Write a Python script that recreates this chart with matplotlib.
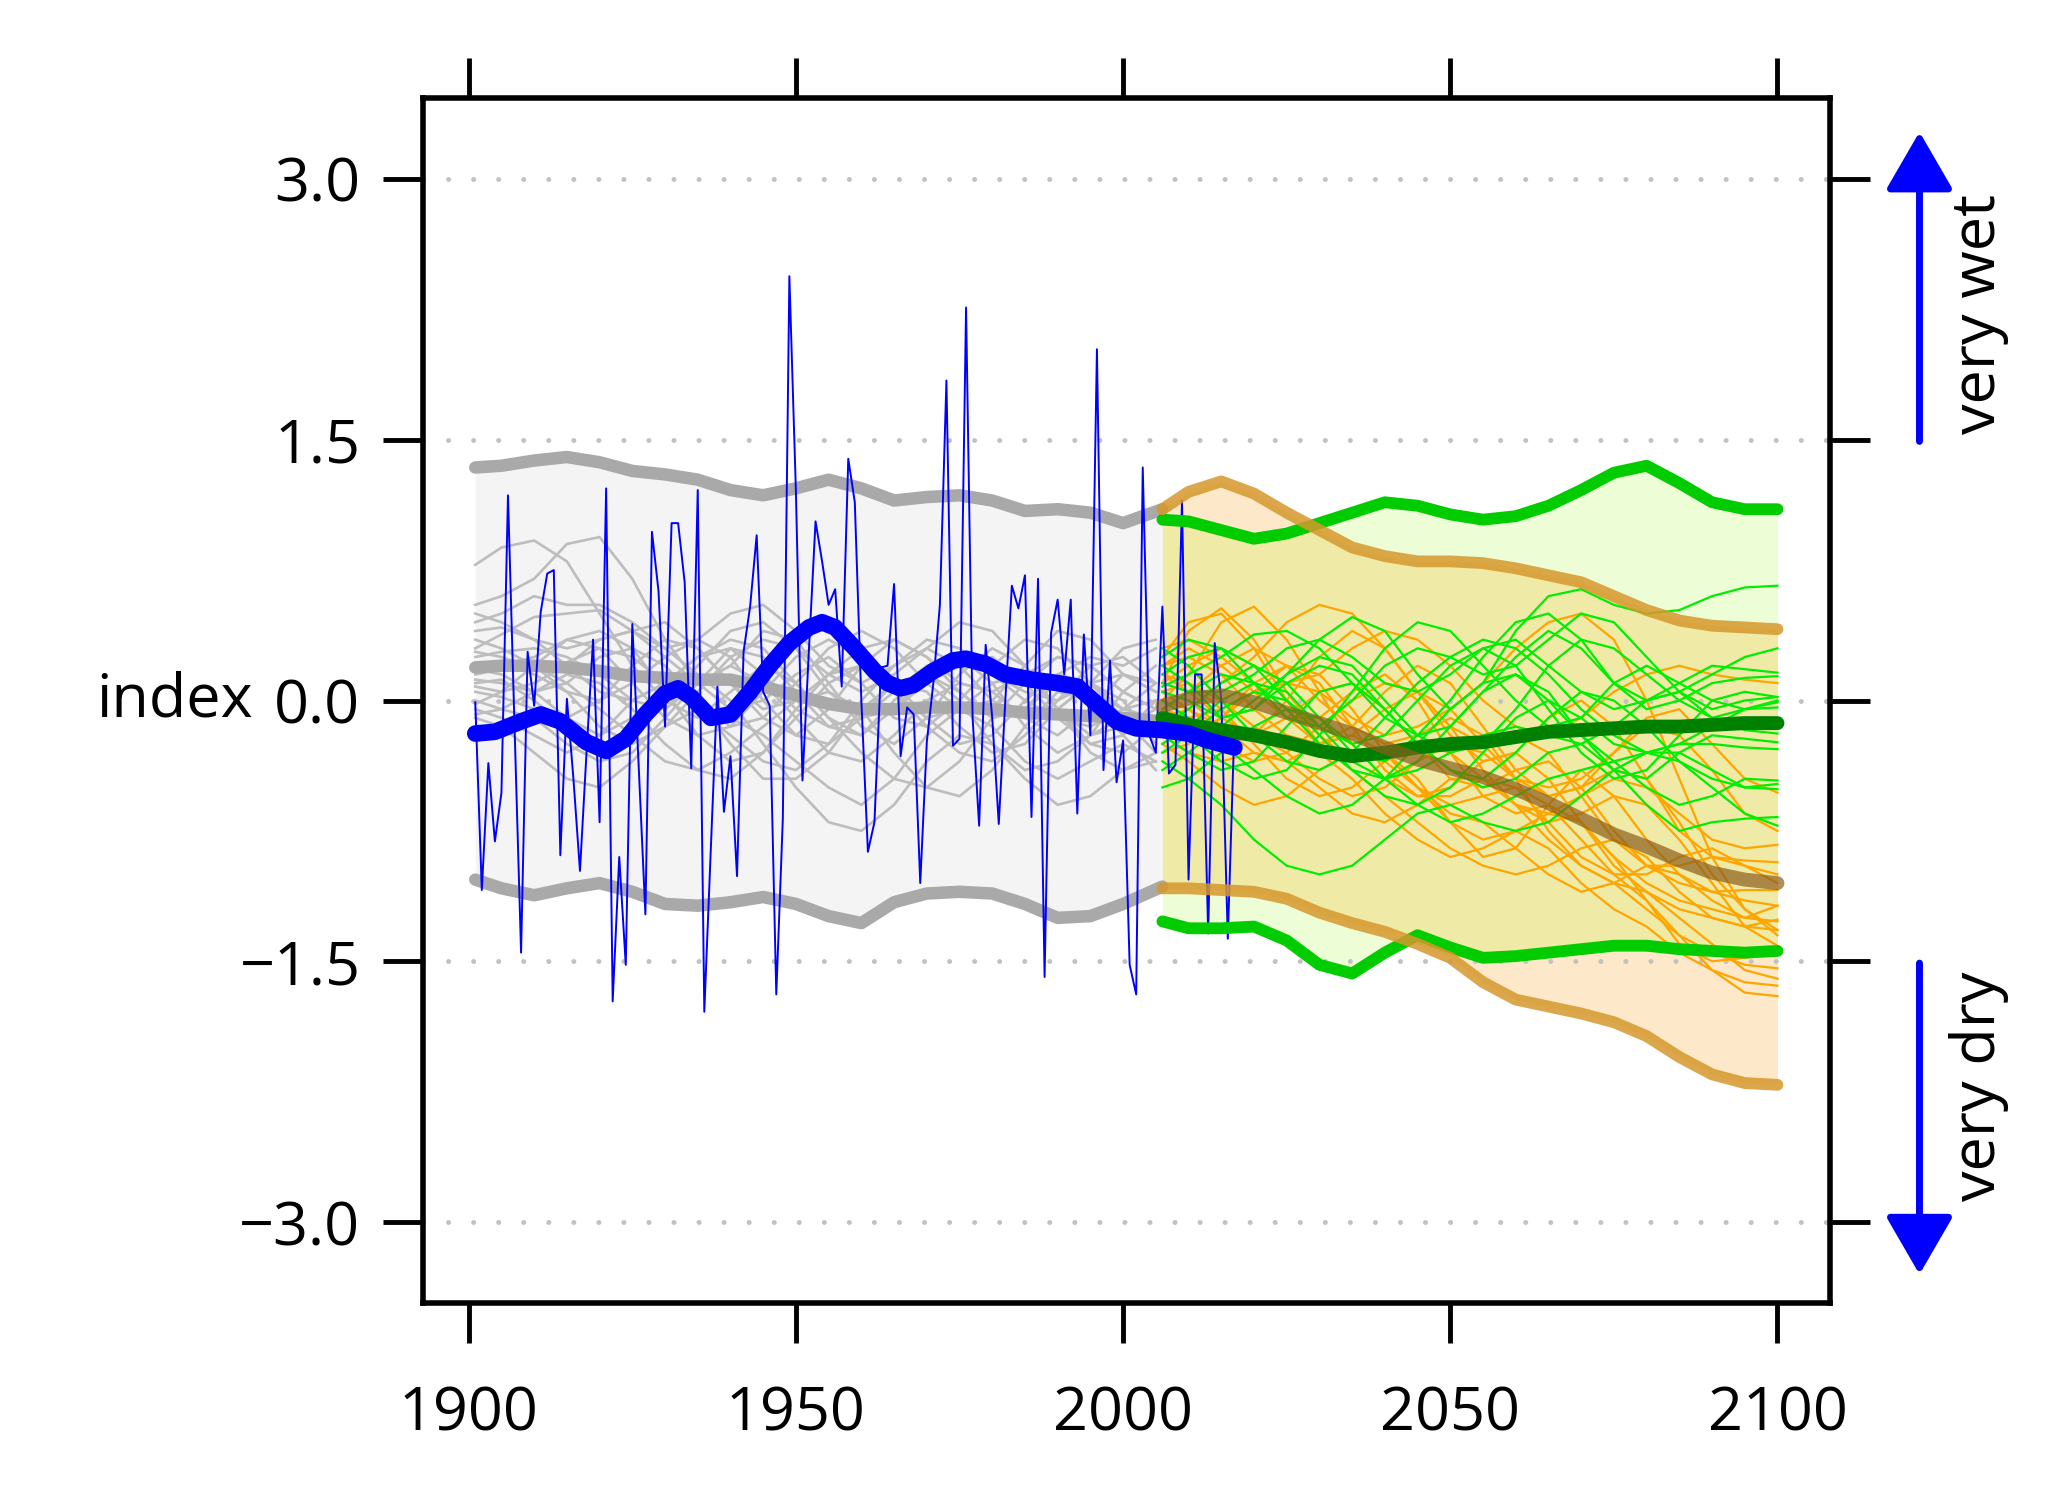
import numpy as np
import matplotlib
matplotlib.use('Agg')
import matplotlib.pyplot as plt
from matplotlib.transforms import blended_transform_factory

plt.rcParams['font.family'] = ['Open Sans', 'DejaVu Sans']

# observed annual index 1901-2017
obs_years = list(range(1901, 2018))
obs_values = [
    -0.01, -1.09, -0.36, -0.81, -0.53, 1.18, -0.15, -1.45, 0.28, -0.03,
    0.51, 0.73, 0.75, -0.89, 0.01, -0.45, -0.98, -0.30, 0.35, -0.70,
    1.22, -1.73, -0.90, -1.52, 0.44, -0.40, -1.23, 0.97, 0.63, -0.15,
    1.02, 1.02, 0.68, -0.39, 1.21, -1.79, -0.85, 0.08, -0.64, -0.32,
    -1.01, 0.28, 0.54, 0.95, 0.05, -0.03, -1.69, -0.68, 2.44, 1.20,
    -0.46, 0.30, 1.03, 0.80, 0.55, 0.64, 0.08, 1.39, 1.14, 0.00,
    -0.87, -0.70, 0.19, 0.20, 0.67, -0.32, -0.04, -0.08, -1.05, -0.24,
    0.10, 0.55, 1.84, -0.26, -0.22, 2.26, -0.10, -0.72, 0.32, -0.10,
    -0.71, 0.00, 0.66, 0.53, 0.72, -0.67, 0.70, -1.59, 0.39, 0.58,
    0.15, 0.58, -0.65, 0.38, -0.20, 2.02, -0.40, 0.23, -0.47, -0.23,
    -1.52, -1.69, 1.34, -0.20, -0.30, 0.54, -0.42, -0.37, 1.15, -1.03,
    0.15, 0.15, -1.34, 0.33, 0.01, -1.37, -0.16,
]

# smoothed observed index
obs_smooth_years = [1901, 1904, 1908, 1911, 1914, 1918, 1921, 1924, 1927, 1930,
                    1932, 1934, 1937, 1940, 1943, 1946, 1949, 1952, 1954, 1956,
                    1959, 1962, 1964, 1966, 1968, 1971, 1974, 1976, 1979, 1982,
                    1986, 1990, 1993, 1996, 1999, 2002, 2006, 2010, 2013, 2017]
obs_smooth = [-0.19, -0.18, -0.12, -0.08, -0.12, -0.24, -0.29, -0.22, -0.08, 0.04,
              0.07, 0.02, -0.10, -0.08, 0.05, 0.20, 0.33, 0.42, 0.45, 0.42,
              0.30, 0.17, 0.10, 0.07, 0.09, 0.17, 0.23, 0.24, 0.21, 0.15,
              0.12, 0.10, 0.08, -0.02, -0.12, -0.16, -0.17, -0.19, -0.23, -0.27]

# historical model runs
hist_years = [1901, 1905, 1910, 1915, 1920, 1925, 1930, 1935, 1940, 1945, 1950,
              1955, 1960, 1965, 1970, 1975, 1980, 1985, 1990, 1995, 2000, 2005]
hist_runs = [
    [0.78, 0.88, 0.92, 0.80, 0.50, 0.20, 0.00, -0.10, 0.05, 0.20, 0.10, -0.10, -0.20, 0.00, 0.15, 0.05, -0.10, -0.05, 0.10, 0.05, -0.05, -0.10],
    [0.55, 0.60, 0.70, 0.90, 0.94, 0.70, 0.35, 0.10, -0.05, 0.00, 0.15, 0.25, 0.10, -0.10, -0.15, 0.00, 0.20, 0.35, 0.30, 0.10, -0.05, 0.00],
    [0.45, 0.50, 0.60, 0.55, 0.55, 0.45, 0.30, 0.35, 0.50, 0.55, 0.40, 0.20, 0.10, 0.20, 0.35, 0.30, 0.15, 0.05, 0.00, 0.10, 0.15, 0.05],
    [0.30, 0.38, 0.48, 0.50, 0.52, 0.40, 0.25, 0.10, 0.20, 0.40, 0.35, 0.10, -0.15, -0.25, -0.10, 0.15, 0.30, 0.20, -0.05, -0.20, -0.15, -0.05],
    [0.25, 0.28, 0.30, 0.25, 0.15, 0.00, -0.05, 0.10, 0.30, 0.25, 0.05, -0.15, -0.20, -0.05, 0.15, 0.25, 0.10, -0.15, -0.30, -0.20, 0.05, 0.20],
    [0.20, 0.22, 0.15, 0.05, 0.00, 0.10, 0.25, 0.35, 0.25, 0.00, -0.20, -0.25, -0.10, 0.10, 0.15, 0.00, -0.25, -0.40, -0.35, -0.20, -0.10, -0.20],
    [0.12, 0.10, 0.05, 0.10, 0.25, 0.30, 0.20, 0.00, -0.15, -0.10, 0.10, 0.30, 0.40, 0.30, 0.10, -0.05, 0.00, 0.20, 0.40, 0.35, 0.15, 0.05],
    [0.05, 0.02, -0.05, -0.10, 0.00, 0.20, 0.35, 0.30, 0.10, -0.10, -0.20, -0.05, 0.20, 0.35, 0.25, 0.05, -0.10, -0.05, 0.15, 0.25, 0.20, 0.30],
    [0.00, -0.05, -0.10, -0.25, -0.35, -0.30, -0.10, 0.10, 0.20, 0.10, -0.10, -0.30, -0.35, -0.20, 0.00, 0.10, 0.05, -0.10, -0.20, -0.05, 0.15, 0.10],
    [-0.05, -0.10, -0.20, -0.30, -0.20, 0.00, 0.10, 0.00, -0.25, -0.45, -0.45, -0.30, -0.05, 0.10, 0.05, -0.15, -0.30, -0.25, -0.05, 0.10, 0.00, -0.25],
    [-0.10, -0.15, -0.30, -0.45, -0.50, -0.35, -0.15, -0.05, -0.10, -0.20, -0.35, -0.50, -0.60, -0.45, -0.20, -0.05, -0.15, -0.35, -0.45, -0.35, -0.25, -0.35],
    [0.15, 0.18, 0.20, 0.10, -0.05, -0.20, -0.35, -0.40, -0.30, -0.15, 0.00, 0.05, -0.05, -0.30, -0.50, -0.55, -0.40, -0.15, 0.05, 0.00, -0.20, -0.40],
    [0.35, 0.30, 0.20, 0.05, -0.15, -0.25, -0.15, 0.05, 0.25, 0.35, 0.30, 0.15, 0.05, 0.15, 0.30, 0.45, 0.40, 0.20, -0.05, -0.25, -0.30, -0.15],
    [0.08, 0.05, 0.10, 0.20, 0.35, 0.40, 0.30, 0.15, 0.00, -0.25, -0.50, -0.70, -0.75, -0.60, -0.35, -0.20, -0.25, -0.45, -0.60, -0.55, -0.40, -0.30],
    [0.28, 0.25, 0.18, 0.22, 0.30, 0.25, 0.10, -0.05, -0.20, -0.35, -0.40, -0.25, 0.00, 0.20, 0.30, 0.20, 0.00, -0.10, -0.05, 0.10, 0.30, 0.35],
    [0.18, 0.15, 0.05, -0.10, -0.20, -0.10, 0.10, 0.25, 0.35, 0.30, 0.10, -0.10, -0.30, -0.45, -0.50, -0.35, -0.10, 0.10, 0.25, 0.20, 0.05, -0.05],
    [0.40, 0.42, 0.35, 0.20, 0.05, 0.00, 0.10, 0.25, 0.30, 0.15, -0.05, -0.15, -0.10, 0.05, 0.20, 0.25, 0.15, 0.00, -0.10, -0.15, -0.05, 0.10],
    [-0.02, 0.05, 0.20, 0.35, 0.30, 0.10, -0.10, -0.20, -0.15, 0.05, 0.25, 0.35, 0.25, 0.05, -0.15, -0.30, -0.35, -0.20, 0.00, 0.20, 0.25, 0.10],
    [0.22, 0.20, 0.25, 0.35, 0.40, 0.30, 0.05, -0.20, -0.35, -0.30, -0.10, 0.10, 0.20, 0.10, -0.10, -0.25, -0.20, 0.00, 0.15, 0.10, -0.10, -0.30],
    [0.10, 0.12, 0.00, -0.15, -0.25, -0.20, 0.00, 0.20, 0.40, 0.45, 0.30, 0.05, -0.10, -0.05, 0.10, 0.20, 0.25, 0.10, -0.10, -0.25, -0.20, 0.00],
    [0.50, 0.45, 0.35, 0.30, 0.35, 0.40, 0.45, 0.30, 0.10, -0.05, 0.00, 0.15, 0.30, 0.35, 0.25, 0.10, 0.05, 0.15, 0.25, 0.20, 0.05, -0.05],
    [-0.08, -0.05, 0.05, 0.15, 0.10, -0.05, -0.25, -0.40, -0.45, -0.30, -0.05, 0.15, 0.20, 0.05, -0.10, -0.05, 0.10, 0.15, -0.05, -0.30, -0.40, -0.35],
]

# historical envelope and mean
hist_env_years = [1901, 1905, 1910, 1915, 1920, 1925, 1930, 1935, 1940, 1945, 1950,
                  1955, 1960, 1965, 1970, 1975, 1980, 1985, 1990, 1995, 2000, 2006]
hist_hi = [1.34, 1.35, 1.38, 1.40, 1.37, 1.32, 1.30, 1.27, 1.21, 1.18, 1.22,
           1.27, 1.22, 1.15, 1.17, 1.18, 1.15, 1.09, 1.10, 1.08, 1.02, 1.10]
hist_lo = [-1.03, -1.08, -1.12, -1.08, -1.05, -1.10, -1.17, -1.18, -1.16, -1.13, -1.17,
           -1.24, -1.28, -1.16, -1.11, -1.10, -1.11, -1.17, -1.25, -1.24, -1.17, -1.07]
hist_mean = [0.19, 0.20, 0.20, 0.19, 0.17, 0.14, 0.13, 0.12, 0.12, 0.08, 0.03,
             -0.02, -0.05, -0.05, -0.04, -0.04, -0.05, -0.07, -0.08, -0.09, -0.10, -0.12]

# future scenario runs
fut_years = [2006, 2010, 2015, 2020, 2025, 2030, 2035, 2040, 2045, 2050,
             2055, 2060, 2065, 2070, 2075, 2080, 2085, 2090, 2095, 2100]
orange_runs = [
    [0.10, 0.40, 0.53, 0.35, 0.05, -0.20, -0.35, -0.30, -0.45, -0.70, -0.90, -0.85, -0.60, -0.40, -0.55, -0.80, -1.00, -1.10, -1.15, -1.18],
    [0.00, 0.15, 0.45, 0.54, 0.35, 0.05, -0.25, -0.45, -0.55, -0.50, -0.35, -0.30, -0.45, -0.70, -0.95, -1.10, -1.20, -1.25, -1.30, -1.32],
    [-0.10, -0.05, 0.10, 0.25, 0.45, 0.55, 0.50, 0.30, 0.05, -0.20, -0.35, -0.30, -0.10, 0.00, -0.15, -0.45, -0.75, -0.90, -0.92, -0.93],
    [0.20, 0.25, 0.15, -0.05, -0.20, -0.25, -0.15, 0.05, 0.20, 0.10, -0.15, -0.40, -0.55, -0.50, -0.30, -0.10, -0.05, -0.25, -0.45, -0.53],
    [0.05, 0.00, -0.15, -0.30, -0.35, -0.25, -0.20, -0.30, -0.50, -0.70, -0.80, -0.75, -0.85, -1.05, -1.20, -1.30, -1.45, -1.55, -1.62, -1.64],
    [-0.05, -0.10, -0.05, 0.05, 0.10, 0.05, -0.10, -0.20, -0.15, -0.05, 0.10, 0.30, 0.45, 0.50, 0.35, 0.00, -0.45, -0.90, -1.20, -1.35],
    [0.15, 0.05, -0.10, -0.20, -0.10, 0.05, 0.10, -0.05, -0.25, -0.45, -0.50, -0.40, -0.35, -0.50, -0.75, -0.95, -1.05, -1.10, -1.09, -1.09],
    [-0.20, -0.30, -0.35, -0.30, -0.35, -0.50, -0.65, -0.70, -0.60, -0.45, -0.45, -0.60, -0.80, -0.95, -1.05, -1.20, -1.35, -1.45, -1.52, -1.54],
    [0.25, 0.45, 0.50, 0.30, 0.00, -0.25, -0.40, -0.55, -0.70, -0.85, -0.95, -1.00, -0.95, -0.85, -0.80, -0.90, -1.10, -1.25, -1.30, -1.26],
    [-0.10, -0.15, -0.25, -0.35, -0.30, -0.15, 0.00, 0.10, 0.05, -0.15, -0.40, -0.60, -0.70, -0.65, -0.55, -0.60, -0.80, -1.05, -1.30, -1.41],
    [0.10, 0.20, 0.30, 0.20, 0.10, 0.15, 0.30, 0.40, 0.35, 0.20, 0.00, -0.15, -0.20, -0.10, 0.05, 0.15, 0.20, 0.15, 0.12, 0.10],
    [-0.25, -0.35, -0.50, -0.60, -0.55, -0.40, -0.30, -0.35, -0.50, -0.60, -0.55, -0.50, -0.60, -0.80, -1.00, -1.15, -1.35, -1.55, -1.68, -1.70],
    [0.00, -0.05, -0.15, -0.20, -0.30, -0.45, -0.55, -0.50, -0.35, -0.25, -0.30, -0.45, -0.55, -0.50, -0.40, -0.45, -0.70, -1.00, -1.20, -1.32],
    [0.30, 0.35, 0.25, 0.10, -0.10, -0.25, -0.20, -0.05, 0.05, -0.05, -0.25, -0.45, -0.50, -0.45, -0.30, -0.15, -0.20, -0.40, -0.65, -0.75],
    [-0.15, -0.20, -0.10, 0.05, 0.20, 0.15, -0.05, -0.30, -0.50, -0.65, -0.70, -0.85, -1.00, -1.10, -1.05, -0.95, -1.00, -1.15, -1.25, -1.18],
    [0.05, 0.10, 0.00, -0.15, -0.25, -0.30, -0.45, -0.65, -0.80, -0.90, -0.85, -0.75, -0.65, -0.70, -0.90, -1.15, -1.40, -1.50, -1.48, -1.45],
    [0.20, 0.30, 0.20, 0.05, -0.10, -0.10, 0.05, 0.15, 0.00, -0.30, -0.55, -0.65, -0.60, -0.70, -0.90, -1.05, -1.15, -1.20, -1.25, -1.27],
    [-0.30, -0.25, -0.10, 0.10, 0.20, 0.10, -0.15, -0.40, -0.55, -0.55, -0.45, -0.50, -0.70, -0.90, -1.00, -1.00, -0.90, -0.85, -0.95, -1.05],
    [0.05, -0.05, -0.20, -0.20, 0.00, 0.25, 0.40, 0.30, 0.05, -0.15, -0.25, -0.20, -0.30, -0.55, -0.80, -0.95, -0.95, -0.90, -0.95, -1.00],
    [-0.05, 0.05, 0.20, 0.30, 0.20, 0.00, -0.15, -0.25, -0.20, -0.10, -0.20, -0.45, -0.75, -0.95, -1.05, -1.10, -1.25, -1.40, -1.55, -1.60],
    [0.15, 0.10, -0.05, -0.25, -0.45, -0.55, -0.50, -0.35, -0.25, -0.30, -0.45, -0.60, -0.65, -0.55, -0.45, -0.50, -0.65, -0.80, -0.85, -0.83],
]
green_runs = [
    [0.20, 0.10, -0.10, -0.05, 0.15, 0.35, 0.48, 0.40, 0.15, -0.05, 0.10, 0.40, 0.60, 0.64, 0.55, 0.50, 0.52, 0.60, 0.65, 0.66],
    [-0.35, -0.45, -0.60, -0.80, -0.95, -1.00, -0.95, -0.80, -0.65, -0.60, -0.70, -0.75, -0.70, -0.55, -0.40, -0.30, -0.35, -0.50, -0.65, -0.72],
    [0.08, 0.15, 0.25, 0.38, 0.40, 0.30, 0.10, -0.10, -0.20, -0.15, 0.05, 0.25, 0.40, 0.30, 0.10, 0.00, 0.05, 0.15, 0.25, 0.30],
    [-0.10, -0.20, -0.35, -0.45, -0.40, -0.20, 0.05, 0.30, 0.45, 0.40, 0.20, 0.00, -0.15, -0.10, 0.10, 0.20, 0.10, 0.00, -0.05, -0.04],
    [-0.50, -0.45, -0.30, -0.15, -0.05, -0.10, -0.25, -0.45, -0.60, -0.70, -0.65, -0.55, -0.45, -0.40, -0.35, -0.30, -0.30, -0.40, -0.50, -0.51],
    [0.30, 0.20, 0.00, -0.20, -0.35, -0.40, -0.30, -0.10, 0.10, 0.25, 0.35, 0.30, 0.15, -0.05, -0.20, -0.30, -0.25, -0.15, -0.05, -0.01],
    [-0.25, -0.15, 0.00, 0.10, 0.05, -0.15, -0.35, -0.45, -0.35, -0.15, 0.05, 0.15, 0.05, -0.20, -0.40, -0.45, -0.30, -0.20, -0.22, -0.24],
    [0.00, -0.10, -0.25, -0.40, -0.55, -0.65, -0.60, -0.45, -0.25, -0.05, 0.10, 0.15, 0.00, -0.20, -0.35, -0.50, -0.60, -0.55, -0.45, -0.46],
    [-0.15, -0.05, 0.10, 0.20, 0.10, -0.10, -0.30, -0.35, -0.20, 0.00, 0.25, 0.45, 0.50, 0.35, 0.10, -0.05, 0.00, 0.10, 0.13, 0.14],
    [0.15, 0.25, 0.30, 0.20, 0.00, -0.20, -0.40, -0.55, -0.60, -0.50, -0.30, -0.10, 0.00, -0.10, -0.25, -0.30, -0.25, -0.25, -0.27, -0.28],
    [-0.40, -0.30, -0.15, 0.00, 0.15, 0.25, 0.20, 0.00, -0.20, -0.30, -0.25, -0.05, 0.20, 0.35, 0.30, 0.15, 0.00, -0.10, -0.17, -0.19],
    [0.05, 0.00, -0.10, -0.05, 0.10, 0.20, 0.15, -0.05, -0.25, -0.40, -0.50, -0.45, -0.30, -0.25, -0.40, -0.60, -0.75, -0.70, -0.68, -0.67],
    [-0.05, 0.05, 0.15, 0.10, -0.05, -0.25, -0.40, -0.45, -0.40, -0.30, -0.20, -0.15, -0.20, -0.25, -0.15, 0.00, 0.05, -0.05, 0.00, 0.02],
    [0.25, 0.35, 0.30, 0.10, -0.10, -0.15, 0.00, 0.20, 0.30, 0.25, 0.15, 0.20, 0.35, 0.50, 0.45, 0.25, 0.05, -0.10, -0.05, 0.00],
    [-0.20, -0.30, -0.40, -0.35, -0.15, 0.05, 0.10, -0.05, -0.25, -0.40, -0.45, -0.30, -0.10, 0.05, 0.00, -0.15, -0.35, -0.45, -0.50, -0.48],
    [0.10, 0.05, 0.05, 0.15, 0.30, 0.35, 0.25, 0.10, 0.05, 0.15, 0.30, 0.35, 0.20, 0.05, -0.05, 0.00, 0.10, 0.20, 0.18, 0.16],
    [-0.30, -0.20, -0.05, 0.05, 0.00, -0.15, -0.25, -0.20, 0.00, 0.20, 0.30, 0.20, -0.05, -0.30, -0.45, -0.40, -0.20, 0.00, 0.05, 0.02],
]

# future envelopes and means
orange_hi = [1.10, 1.20, 1.26, 1.19, 1.08, 0.98, 0.88, 0.83, 0.80, 0.80,
             0.79, 0.76, 0.72, 0.68, 0.60, 0.52, 0.46, 0.43, 0.42, 0.41]
orange_lo = [-1.08, -1.08, -1.09, -1.10, -1.14, -1.22, -1.28, -1.33, -1.40, -1.48,
             -1.62, -1.72, -1.76, -1.80, -1.85, -1.93, -2.05, -2.15, -2.20, -2.21]
orange_mean = [-0.03, 0.01, 0.03, -0.01, -0.07, -0.13, -0.19, -0.27, -0.34, -0.39,
               -0.44, -0.51, -0.59, -0.68, -0.77, -0.84, -0.92, -0.99, -1.03, -1.05]
green_hi = [1.04, 1.03, 0.98, 0.93, 0.96, 1.02, 1.08, 1.14, 1.12, 1.07,
            1.04, 1.06, 1.12, 1.21, 1.31, 1.35, 1.25, 1.14, 1.10, 1.10]
green_lo = [-1.27, -1.31, -1.31, -1.30, -1.38, -1.52, -1.57, -1.45, -1.35, -1.42,
            -1.48, -1.47, -1.45, -1.43, -1.41, -1.41, -1.43, -1.44, -1.45, -1.44]
green_mean = [-0.10, -0.14, -0.17, -0.20, -0.24, -0.29, -0.32, -0.30, -0.27, -0.25,
              -0.24, -0.21, -0.18, -0.17, -0.16, -0.15, -0.15, -0.14, -0.13, -0.13]

y_ticks = [-3.0, -1.5, 0.0, 1.5, 3.0]
y_tick_labels = ['\u22123.0', '\u22121.5', '0.0', '1.5', '3.0']
x_ticks = [1900, 1950, 2000, 2050, 2100]

fig = plt.figure(figsize=(20.53, 15.0), dpi=100)
ax = fig.add_axes([0.206, 0.1313, 0.6853, 0.8034])
ax.set_xlim(1893, 2108)
ax.set_ylim(-3.465, 3.465)

# shaded envelopes
ax.fill_between(hist_env_years, hist_lo, hist_hi, color='#f4f4f4', lw=0, zorder=1)
ax.fill_between(fut_years, orange_lo, orange_hi, color='#fde9c9', lw=0, zorder=1)
ax.fill_between(fut_years, green_lo, green_hi, color='#edfdd5', lw=0, zorder=1.1)
ax.fill_between(fut_years, np.maximum(orange_lo, green_lo), np.minimum(orange_hi, green_hi),
                color='#f0eaa7', lw=0, zorder=1.2)

# dotted grid
for v in y_ticks:
    ax.axhline(v, color='#c2c2c2', lw=3.6, ls=(0, (0.01, 5.0)),
               dash_capstyle='round', zorder=1.5)

# thin model runs
for run in hist_runs:
    ax.plot(hist_years, run, color='#bdbdbd', lw=1.9, solid_joinstyle='round', zorder=2)
for run in orange_runs:
    ax.plot(fut_years, run, color='#ffa500', lw=1.6, solid_joinstyle='round', zorder=2.1)
for run in green_runs:
    ax.plot(fut_years, run, color='#00ee00', lw=1.6, solid_joinstyle='round', zorder=2.2)

# thick envelope lines
for env in (hist_hi, hist_lo, hist_mean):
    ax.plot(hist_env_years, env, color='#a9a9a9', lw=9, solid_capstyle='round',
            solid_joinstyle='round', zorder=3)

ax.plot(obs_years, obs_values, color='#0000ff', lw=1.4, zorder=4)

for env in (green_hi, green_lo):
    ax.plot(fut_years, env, color='#00cc00', lw=8.5, solid_capstyle='round',
            solid_joinstyle='round', zorder=5)
ax.plot(fut_years, green_mean, color='#008000', lw=10, solid_capstyle='round',
        solid_joinstyle='round', zorder=5.1)
for env in (orange_hi, orange_lo):
    ax.plot(fut_years, env, color='#d6982c', lw=8.5, alpha=0.85,
            solid_capstyle='round', solid_joinstyle='round', zorder=5.2)
ax.plot(fut_years, orange_mean, color='#8b5e1a', lw=10, alpha=0.7,
        solid_capstyle='round', solid_joinstyle='round', zorder=5.3)

ax.plot(obs_smooth_years, obs_smooth, color='#0000ff', lw=12,
        solid_capstyle='round', solid_joinstyle='round', zorder=6)

# axes styling
for s in ax.spines.values():
    s.set_linewidth(4)
ax.set_xticks(x_ticks)
ax.set_xticklabels([str(x) for x in x_ticks])
ax.set_yticks(y_ticks)
ax.set_yticklabels(y_tick_labels)
ax.tick_params(axis='both', direction='out', length=29, width=3.5, labelsize=44,
               top=True, right=True, labeltop=False, labelright=False)
ax.tick_params(axis='x', pad=30)
ax.tick_params(axis='y', pad=16)

trans = blended_transform_factory(ax.transAxes, ax.transData)
ax.text(-0.121, 0.0, 'index', transform=trans, ha='right', va='center', fontsize=44)

# wet / dry arrows
ax.annotate('', xy=(2121.7, 3.27), xytext=(2121.7, 1.49), annotation_clip=False,
            arrowprops=dict(arrowstyle='-|>,head_length=0.95,head_width=0.55',
                            mutation_scale=38, lw=5, color='#0000ff',
                            shrinkA=0, shrinkB=0))
ax.annotate('', xy=(2121.7, -3.30), xytext=(2121.7, -1.51), annotation_clip=False,
            arrowprops=dict(arrowstyle='-|>,head_length=0.95,head_width=0.55',
                            mutation_scale=38, lw=5, color='#0000ff',
                            shrinkA=0, shrinkB=0))
ax.text(2130.8, 2.22, 'very wet', rotation=90, ha='center', va='center',
        fontsize=44, clip_on=False)
ax.text(2130.8, -2.22, 'very dry', rotation=90, ha='center', va='center',
        fontsize=44, clip_on=False)

fig.savefig('out.png', dpi=100)
